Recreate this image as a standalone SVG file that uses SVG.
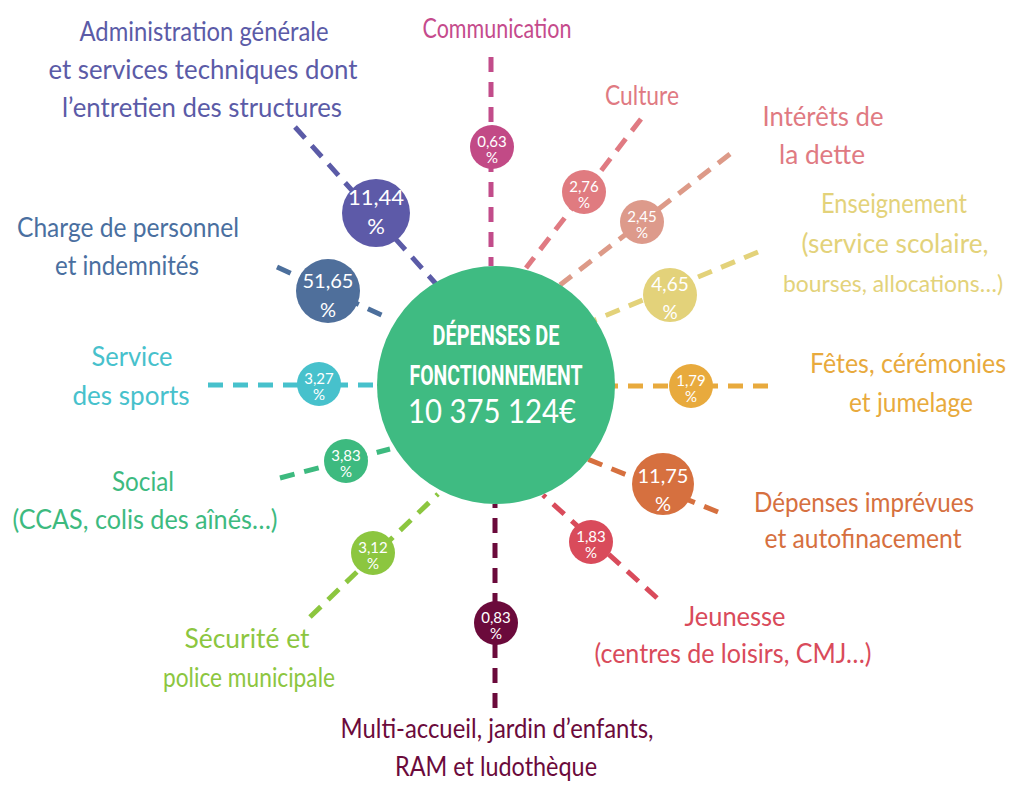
<svg xmlns="http://www.w3.org/2000/svg" width="1014" height="786" viewBox="0 0 1014 786">
<style>
.lbl{font-family:"Lato","Open Sans","Liberation Sans",sans-serif;font-size:26px;text-anchor:middle}
.ln{fill:none;stroke-width:5;stroke-dasharray:15 10}
.pc{font-family:"Lato","Open Sans","Liberation Sans",sans-serif;fill:#fff;text-anchor:middle}
.s{font-size:15px}
.b{font-size:22px}
</style>
<rect width="1014" height="786" fill="#fff"/>
<g id="connectors">
<line class="ln" stroke="#5b5ba7" x1="295" y1="127" x2="437" y2="285"/>
<line class="ln" stroke="#c24c8a" x1="491" y1="57" x2="491" y2="266"/>
<line class="ln" stroke="#e07a82" x1="641" y1="119" x2="526" y2="268"/>
<line class="ln" stroke="#dd9a88" x1="730" y1="154" x2="560" y2="285"/>
<line class="ln" stroke="#e3d27a" x1="758" y1="252" x2="595" y2="320"/>
<line class="ln" stroke="#4c6f9c" x1="277" y1="267" x2="388" y2="318"/>
<line class="ln" stroke="#47c1cc" x1="208" y1="385" x2="380" y2="385"/>
<line class="ln" stroke="#e8aa3d" x1="768" y1="386" x2="612" y2="386"/>
<line class="ln" stroke="#3dba7f" x1="280" y1="478" x2="390" y2="449"/>
<line class="ln" stroke="#d6703f" x1="718" y1="512" x2="585" y2="458"/>
<line class="ln" stroke="#8cc63f" x1="310" y1="617" x2="438" y2="494"/>
<line class="ln" stroke="#6b0a3b" x1="495" y1="708" x2="495" y2="504"/>
<line class="ln" stroke="#d94b5b" x1="657" y1="598" x2="543" y2="495"/>
</g>
<g id="center">
<circle cx="496" cy="385" r="119" fill="#3fbb82"/>
<text x="496" y="345" font-family="Roboto,'Liberation Sans',sans-serif" font-weight="bold" font-size="28" fill="#fff" text-anchor="middle" textLength="127" lengthAdjust="spacingAndGlyphs">DÉPENSES DE</text>
<text x="496" y="385" font-family="Roboto,'Liberation Sans',sans-serif" font-weight="bold" font-size="28" fill="#fff" text-anchor="middle" textLength="173" lengthAdjust="spacingAndGlyphs">FONCTIONNEMENT</text>
<text x="492" y="423" font-family="Lato,'Liberation Sans',sans-serif" font-size="32" fill="#fff" text-anchor="middle" textLength="168" lengthAdjust="spacingAndGlyphs">10 375 124€</text>
</g>
<g id="administration">
<circle cx="376" cy="213" r="34" fill="#5d5aa8"/>
<text class="pc b" x="376" y="205">11,44</text><text class="pc b" x="376" y="234">%</text>
<g class="lbl" fill="#5b5ba7">
<text x="204" y="41" textLength="249" lengthAdjust="spacingAndGlyphs">Administration générale</text>
<text x="203" y="79" textLength="309" lengthAdjust="spacingAndGlyphs">et services techniques dont</text>
<text x="202" y="117" textLength="280" lengthAdjust="spacingAndGlyphs">l’entretien des structures</text>
</g>
</g>
<g id="communication">
<circle cx="492" cy="147" r="22" fill="#c24a86"/>
<text class="pc s" x="492" y="147">0,63</text><text class="pc s" x="492" y="163">%</text>
<text class="lbl" fill="#c54b8c" x="497" y="38" textLength="149" lengthAdjust="spacingAndGlyphs">Communication</text>
</g>
<g id="culture">
<circle cx="584" cy="192" r="22" fill="#e07b80"/>
<text class="pc s" x="584" y="192">2,76</text><text class="pc s" x="584" y="208">%</text>
<text class="lbl" fill="#e07a82" x="642" y="105" textLength="74" lengthAdjust="spacingAndGlyphs">Culture</text>
</g>
<g id="interets">
<circle cx="642" cy="222" r="22" fill="#dd9a8b"/>
<text class="pc s" x="642" y="222">2,45</text><text class="pc s" x="642" y="238">%</text>
<g class="lbl" fill="#e07a82">
<text x="823" y="126" textLength="121" lengthAdjust="spacingAndGlyphs">Intérêts de</text>
<text x="822" y="164" textLength="86" lengthAdjust="spacingAndGlyphs">la dette</text>
</g>
</g>
<g id="enseignement">
<circle cx="670" cy="295" r="27" fill="#e3d27a"/>
<text class="pc" font-size="19" x="670" y="291">4,65</text><text class="pc" font-size="19" x="670" y="319">%</text>
<g class="lbl" fill="#e3d27a">
<text x="894" y="213" textLength="146" lengthAdjust="spacingAndGlyphs">Enseignement</text>
<text x="895" y="253" textLength="187" lengthAdjust="spacingAndGlyphs">(service scolaire,</text>
<text x="893" y="292" font-size="23" textLength="220" lengthAdjust="spacingAndGlyphs">bourses, allocations…)</text>
</g>
</g>
<g id="personnel">
<circle cx="328" cy="291" r="32" fill="#4f6f9b"/>
<text class="pc" font-size="20" x="328" y="288">51,65</text><text class="pc" font-size="20" x="328" y="317">%</text>
<g class="lbl" fill="#4a6fa0">
<text x="128" y="237" textLength="222" lengthAdjust="spacingAndGlyphs">Charge de personnel</text>
<text x="127" y="275" textLength="144" lengthAdjust="spacingAndGlyphs">et indemnités</text>
</g>
</g>
<g id="sports">
<circle cx="319" cy="384" r="22" fill="#47c1cc"/>
<text class="pc s" x="319" y="384">3,27</text><text class="pc s" x="319" y="400">%</text>
<g class="lbl" fill="#47c1cc">
<text x="132" y="366" textLength="81" lengthAdjust="spacingAndGlyphs">Service</text>
<text x="131" y="405" textLength="117" lengthAdjust="spacingAndGlyphs">des sports</text>
</g>
</g>
<g id="fetes">
<circle cx="691" cy="386" r="22" fill="#e8aa3d"/>
<text class="pc s" x="691" y="386">1,79</text><text class="pc s" x="691" y="402">%</text>
<g class="lbl" fill="#e8aa3d">
<text x="908" y="373" textLength="196" lengthAdjust="spacingAndGlyphs">Fêtes, cérémonies</text>
<text x="911" y="412" textLength="124" lengthAdjust="spacingAndGlyphs">et jumelage</text>
</g>
</g>
<g id="social">
<circle cx="346" cy="461" r="22" fill="#3dba7f"/>
<text class="pc s" x="346" y="461">3,83</text><text class="pc s" x="346" y="477">%</text>
<g class="lbl" fill="#3dba7f">
<text x="143" y="491" textLength="62" lengthAdjust="spacingAndGlyphs">Social</text>
<text x="145" y="529" textLength="265" lengthAdjust="spacingAndGlyphs">(CCAS, colis des aînés…)</text>
</g>
</g>
<g id="depenses">
<circle cx="663" cy="484" r="31" fill="#d6703f"/>
<text class="pc" font-size="20" x="663" y="483">11,75</text><text class="pc" font-size="20" x="663" y="511">%</text>
<g class="lbl" fill="#d6703f">
<text x="864" y="512" textLength="220" lengthAdjust="spacingAndGlyphs">Dépenses imprévues</text>
<text x="863" y="548" textLength="197" lengthAdjust="spacingAndGlyphs">et autofinacement</text>
</g>
</g>
<g id="securite">
<circle cx="373" cy="553" r="22" fill="#8cc63f"/>
<text class="pc s" x="373" y="553">3,12</text><text class="pc s" x="373" y="569">%</text>
<g class="lbl" fill="#8cc63f">
<text x="247" y="648" textLength="125" lengthAdjust="spacingAndGlyphs">Sécurité et</text>
<text x="249" y="687" textLength="172" lengthAdjust="spacingAndGlyphs">police municipale</text>
</g>
</g>
<g id="jeunesse">
<circle cx="591" cy="542" r="22" fill="#d94b5b"/>
<text class="pc s" x="591" y="542">1,83</text><text class="pc s" x="591" y="558">%</text>
<g class="lbl" fill="#d94b5b">
<text x="735" y="626" textLength="101" lengthAdjust="spacingAndGlyphs">Jeunesse</text>
<text x="733" y="663" textLength="277" lengthAdjust="spacingAndGlyphs">(centres de loisirs, CMJ…)</text>
</g>
</g>
<g id="multiaccueil">
<circle cx="496" cy="623" r="22" fill="#6b0a3b"/>
<text class="pc s" x="496" y="623">0,83</text><text class="pc s" x="496" y="639">%</text>
<g class="lbl" fill="#6b0a3b">
<text x="497" y="738" textLength="313" lengthAdjust="spacingAndGlyphs">Multi-accueil, jardin d’enfants,</text>
<text x="496" y="776" textLength="202" lengthAdjust="spacingAndGlyphs">RAM et ludothèque</text>
</g>
</g>
</svg>
